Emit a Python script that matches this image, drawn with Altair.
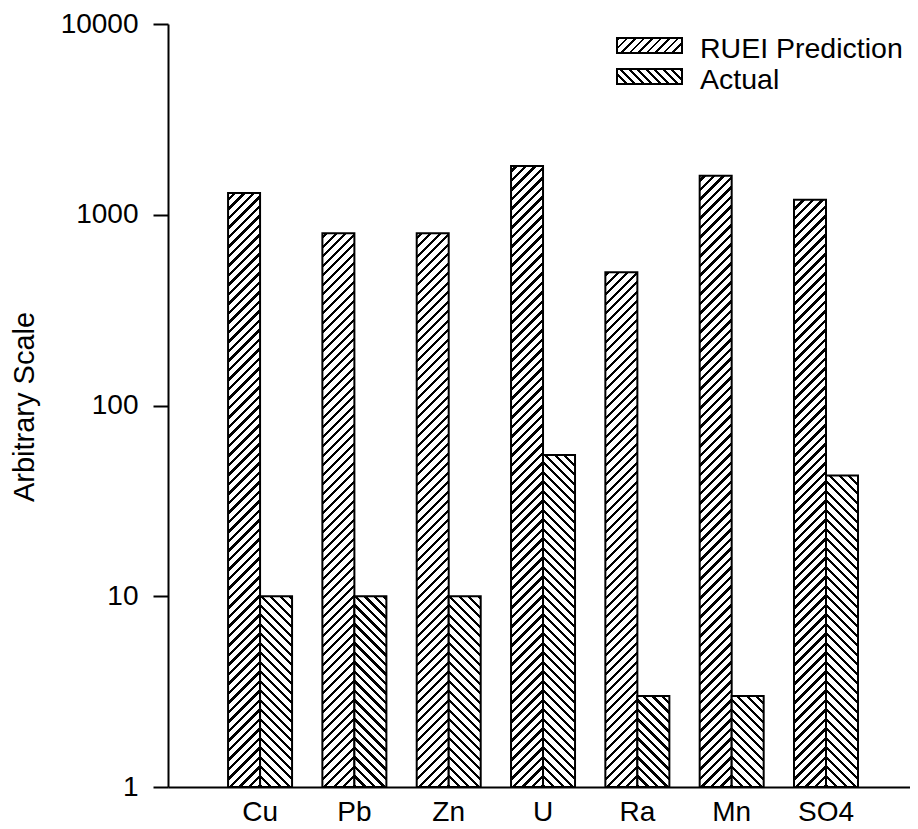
import math
import altair as alt
import pandas as pd

# ---------------- data ----------------
elements = ["Cu", "Pb", "Zn", "U", "Ra", "Mn", "SO4"]
prediction = [1300, 800, 800, 1800, 500, 1600, 1200]
actual = [10, 10, 10, 55, 3, 3, 43]
series = ["RUEI Prediction", "Actual"]
y_ticks = [1, 10, 100, 1000, 10000]

FONT = "Liberation Sans"
PLOT_W, PLOT_H = 742, 763
P_IN, P_OUT, ALIGN = 0.3215, 0.594, 0.536
Y_DECADES = 4.0

step = PLOT_W / (len(elements) - P_IN + 2 * P_OUT)
bar_w = step * (1 - P_IN) / 2


def hatch(w, h, kind, period=9.5, line=3.2):
    """Linear gradient imitating a 45-degree hatch inside a w x h box."""
    L = w + h
    c = L / (w * w + h * h)
    if kind == "/":
        x1, y1, x2, y2 = 1, 1, 1 - c * w, 1 - c * h
    else:
        x1, y1, x2, y2 = 0, 1, c * w, 1 - c * h
    stops = []
    k = 0
    while k * period <= L:
        a = k * period / L
        b = min((k * period + line) / L, 1)
        e = min((k + 1) * period / L, 1)
        stops += [
            {"offset": a, "color": "black"},
            {"offset": b, "color": "black"},
            {"offset": b, "color": "white"},
            {"offset": e, "color": "white"},
        ]
        k += 1
    return {"gradient": "linear", "x1": x1, "y1": y1, "x2": x2, "y2": y2, "stops": stops}


rows = []
for e, p, a in zip(elements, prediction, actual):
    rows.append({"element": e, "series": series[0], "value": p})
    rows.append({"element": e, "series": series[1], "value": a})
df = pd.DataFrame(rows)

x_enc = alt.X(
    "element:N",
    sort=elements,
    scale=alt.Scale(domain=elements, paddingInner=P_IN, paddingOuter=P_OUT, align=ALIGN),
    axis=alt.Axis(title=None, ticks=False, labelAngle=0, labelPadding=11,
                  domainColor="black", domainWidth=2),
)
xo_enc = alt.XOffset(
    "series:N", sort=series,
    scale=alt.Scale(domain=series, paddingInner=0, paddingOuter=0),
)
y_enc = alt.Y(
    "value:Q",
    scale=alt.Scale(type="log", domain=[1, 10000], nice=False),
    axis=alt.Axis(values=y_ticks, format="d", title="Arbitrary Scale",
                  tickSize=15, labelPadding=15, labelFlush=False, labelOverlap=False,
                  titleX=-135, titleY=PLOT_H / 2 + 1, titleBaseline="alphabetic",
                  titleAngle=270, titleFontSize=29, grid=False),
)

base = alt.Chart(df)
layers = []
for _, r in df.iterrows():
    h = PLOT_H * math.log10(r["value"]) / Y_DECADES
    kind = "/" if r["series"] == series[0] else "\\"
    grad = hatch(bar_w, h, kind)
    layers.append(
        base.transform_filter(
            f"datum.element == '{r['element']}' && datum.series == '{r['series']}'"
        )
        .mark_bar(stroke="black", strokeWidth=2)
        .encode(x=x_enc, xOffset=xo_enc, y=y_enc, y2=alt.datum(1), fill=alt.value(grad))
    )

# ---------------- legend (drawn by hand to keep the hatching) ----------------
LEG_X, LEG_W, LEG_H = 449, 65, 15
leg_y = [14, 45]
kinds = ["/", "\\"]
for s, ly, kd in zip(series, leg_y, kinds):
    ldf = pd.DataFrame({"label": [s]})
    layers.append(
        alt.Chart(ldf).mark_rect(stroke="black", strokeWidth=2).encode(
            x=alt.value(LEG_X), x2=alt.value(LEG_X + LEG_W),
            y=alt.value(ly), y2=alt.value(ly + LEG_H),
            fill=alt.value(hatch(LEG_W, LEG_H, kd, period=8.5, line=2.8)),
        )
    )
    layers.append(
        alt.Chart(ldf).mark_text(align="left", baseline="alphabetic", fontSize=28.5,
                                 font=FONT, color="black").encode(
            x=alt.value(LEG_X + LEG_W + 18), y=alt.value(ly + 20), text="label:N"
        )
    )

chart = (
    alt.layer(*layers)
    .properties(width=PLOT_W, height=PLOT_H,
                autosize=alt.AutoSizeParams(type="none"),
                padding={"left": 160, "top": 16, "right": 0, "bottom": 42})
    .configure_view(stroke=None)
    .configure_axis(domainColor="black", domainWidth=2, tickColor="black", tickWidth=2,
                    labelColor="black", labelFont=FONT, labelFontSize=28,
                    titleColor="black", titleFont=FONT, titleFontSize=29,
                    titleFontWeight="normal")
)

chart.save("out.html", embed_options={"renderer": "svg", "actions": False})
